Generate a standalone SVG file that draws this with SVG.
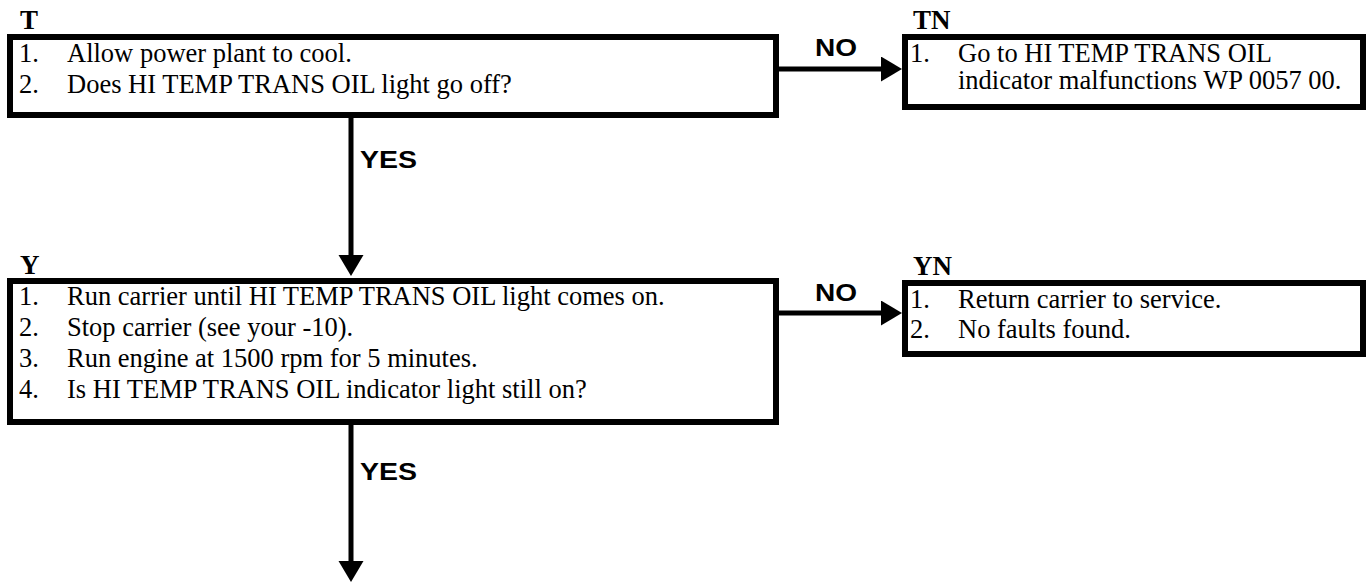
<svg xmlns="http://www.w3.org/2000/svg" width="1370" height="582" viewBox="0 0 1370 582">
<style>
.box{fill:#fff;stroke:#000;stroke-width:6}
.c{stroke:#000;stroke-width:5;fill:none}
</style>
<defs>
<marker id="ah" markerUnits="userSpaceOnUse" markerWidth="22" markerHeight="26" refX="2" refY="12.5" orient="auto" viewBox="0 0 22 26">
<path d="M0,0 L21,12.5 L0,25 Z" fill="#000"/>
</marker>
</defs>
<g id="connectors">
<line class="c" x1="779" y1="69" x2="883" y2="69" marker-end="url(#ah)"/>
<line class="c" x1="351" y1="118" x2="351" y2="257" marker-end="url(#ah)"/>
<line class="c" x1="779" y1="313" x2="883" y2="313" marker-end="url(#ah)"/>
<line class="c" x1="351" y1="425" x2="351" y2="563" marker-end="url(#ah)"/>
<g font-family="'Liberation Sans', Arial, sans-serif" font-size="24" font-weight="bold" fill="#000">
<text x="815" y="56" textLength="42" lengthAdjust="spacingAndGlyphs">NO</text>
<text x="360" y="168" textLength="57" lengthAdjust="spacingAndGlyphs">YES</text>
<text x="815" y="301" textLength="42" lengthAdjust="spacingAndGlyphs">NO</text>
<text x="360" y="480" textLength="57" lengthAdjust="spacingAndGlyphs">YES</text>
</g>
</g>
<g id="T" font-family="'Liberation Serif', 'Times New Roman', serif" font-size="26.5" fill="#000">
<text x="20" y="29" font-size="27" font-weight="bold">T</text>
<rect class="box" x="10" y="37" width="766" height="78"/>
<text x="19" y="62">1.</text><text x="67" y="62">Allow power plant to cool.</text>
<text x="19" y="93">2.</text><text x="67" y="93">Does HI TEMP TRANS OIL light go off?</text>
</g>
<g id="TN" font-family="'Liberation Serif', 'Times New Roman', serif" font-size="26.5" fill="#000">
<text x="913" y="29" font-size="27" font-weight="bold">TN</text>
<rect class="box" x="905" y="37" width="458" height="70"/>
<text x="910" y="62">1.</text><text x="958" y="62">Go to HI TEMP TRANS OIL</text>
<text x="958" y="89">indicator malfunctions WP 0057 00.</text>
</g>
<g id="Y" font-family="'Liberation Serif', 'Times New Roman', serif" font-size="26.5" fill="#000">
<text x="20" y="274" font-size="27" font-weight="bold">Y</text>
<rect class="box" x="10" y="281" width="766" height="141"/>
<text x="19" y="305">1.</text><text x="67" y="305">Run carrier until HI TEMP TRANS OIL light comes on.</text>
<text x="19" y="336">2.</text><text x="67" y="336">Stop carrier (see your -10).</text>
<text x="19" y="367">3.</text><text x="67" y="367">Run engine at 1500 rpm for 5 minutes.</text>
<text x="19" y="398">4.</text><text x="67" y="398">Is HI TEMP TRANS OIL indicator light still on?</text>
</g>
<g id="YN" font-family="'Liberation Serif', 'Times New Roman', serif" font-size="26.5" fill="#000">
<text x="913" y="275" font-size="27" font-weight="bold">YN</text>
<rect class="box" x="905" y="283" width="458" height="71"/>
<text x="910" y="308">1.</text><text x="958" y="308">Return carrier to service.</text>
<text x="910" y="338">2.</text><text x="958" y="338">No faults found.</text>
</g>
</svg>
